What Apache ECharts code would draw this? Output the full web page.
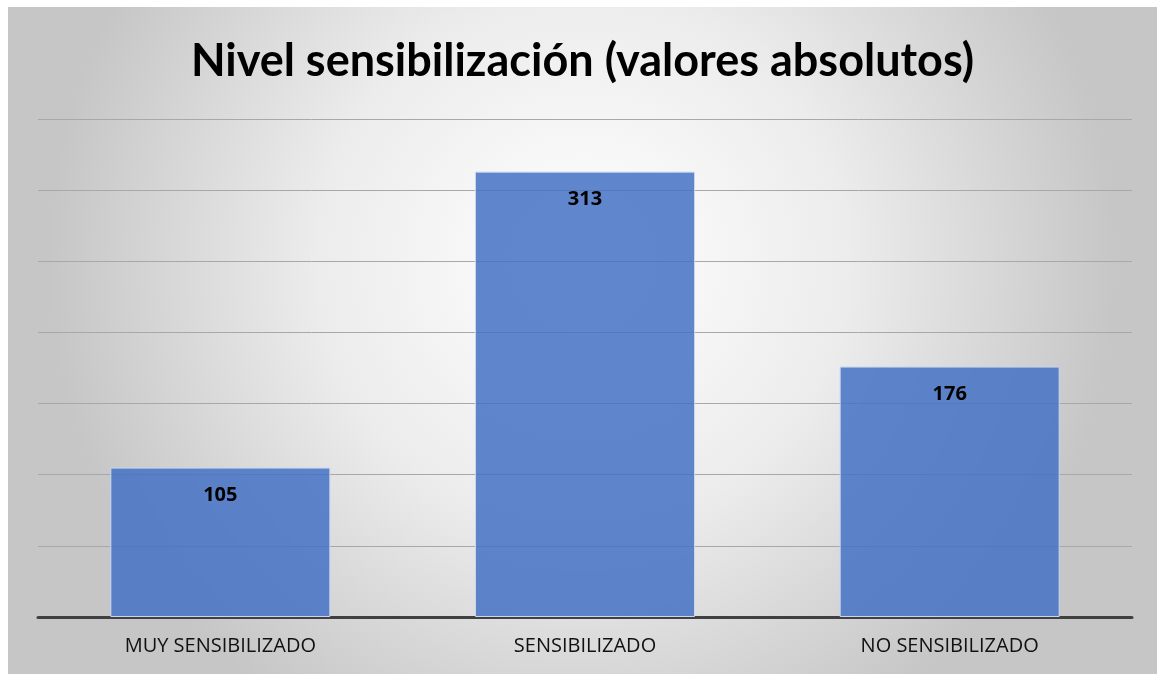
<!DOCTYPE html>
<html>
<head>
<meta charset="utf-8">
<title>Nivel sensibilización</title>
<script src="https://cdn.jsdelivr.net/npm/echarts@6/dist/echarts.min.js"></script>
<style>
  html, body { margin: 0; padding: 0; background: #ffffff; }
  #chart { position: absolute; left: 8px; top: 7px; width: 1149px; height: 667px; }
</style>
</head>
<body>
<div id="chart"></div>
<script>
  // datos
  var categorias = ['MUY SENSIBILIZADO', 'SENSIBILIZADO', 'NO SENSIBILIZADO'];
  var valores = [105, 313, 176];
  var ejeMax = 350;
  var ejeIntervalo = 50;

  var myChart = echarts.init(document.getElementById('chart'));
  myChart.setOption({
    backgroundColor: {
      type: 'radial', x: 0.5, y: 0.38, r: 0.8,
      colorStops: [
        { offset: 0, color: '#ffffff' },
        { offset: 0.5, color: '#ececec' },
        { offset: 1, color: '#c6c6c6' }
      ]
    },
    title: {
      text: 'Nivel sensibilización (valores absolutos)',
      left: 'center',
      top: 27,
      textStyle: { fontFamily: 'Lato', fontWeight: 'bold', fontSize: 45, color: '#000000' }
    },
    grid: { left: 30, right: 25, top: 112, bottom: 57 },
    xAxis: {
      type: 'category',
      data: categorias,
      axisLine: { lineStyle: { color: '#404040', width: 3 } },
      axisTick: { show: false },
      axisLabel: { fontFamily: 'Open Sans', fontSize: 20, color: '#111111', margin: 19 }
    },
    yAxis: {
      type: 'value',
      min: 0,
      max: ejeMax,
      interval: ejeIntervalo,
      axisLabel: { show: false },
      axisLine: { show: false },
      axisTick: { show: false },
      splitLine: { lineStyle: { color: '#a8a8a8', width: 1 } }
    },
    series: [{
      type: 'bar',
      data: valores,
      barWidth: 220,
      itemStyle: { color: 'rgba(68,114,196,0.85)', borderColor: '#c8d6ee', borderWidth: 1 },
      label: {
        show: true,
        position: 'insideTop',
        distance: 18,
        fontFamily: 'Open Sans',
        fontWeight: 'bold',
        fontSize: 20,
        color: '#000000'
      }
    }]
  });
</script>
</body>
</html>
